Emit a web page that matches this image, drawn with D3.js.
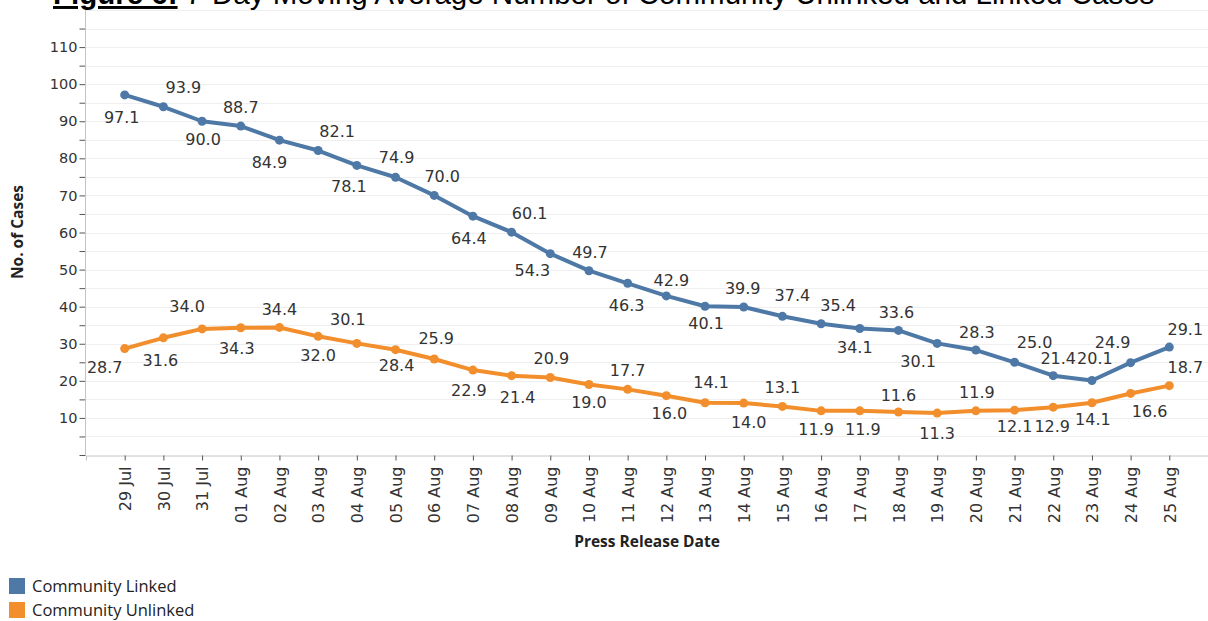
<!DOCTYPE html>
<html lang="en">
<head>
  <meta charset="UTF-8">
  <title>7-Day Moving Average Number of Community Unlinked and Linked Cases</title>
  <script src="https://d3js.org/d3.v7.min.js"></script>
  <style>
    body {
      margin: 0;
      background: #fff;
    }
    svg {
      display: block;
    }
    .tick text {
      font-family: "DejaVu Sans", sans-serif;
      fill: #333;
    }
  </style>
</head>
<body>
  <div id="chart"></div>

  <script>
    // data
    const dates = ["29 Jul", "30 Jul", "31 Jul", "01 Aug", "02 Aug", "03 Aug", "04 Aug",
                   "05 Aug", "06 Aug", "07 Aug", "08 Aug", "09 Aug", "10 Aug", "11 Aug",
                   "12 Aug", "13 Aug", "14 Aug", "15 Aug", "16 Aug", "17 Aug", "18 Aug",
                   "19 Aug", "20 Aug", "21 Aug", "22 Aug", "23 Aug", "24 Aug", "25 Aug"];
    const linked = [97.1, 93.9, 90.0, 88.7, 84.9, 82.1, 78.1, 74.9, 70.0, 64.4, 60.1, 54.3, 49.7, 46.3,
                    42.9, 40.1, 39.9, 37.4, 35.4, 34.1, 33.6, 30.1, 28.3, 25.0, 21.4, 20.1, 24.9, 29.1];
    const unlinked = [28.7, 31.6, 34.0, 34.3, 34.4, 32.0, 30.1, 28.4, 25.9, 22.9, 21.4, 20.9, 19.0, 17.7,
                      16.0, 14.1, 14.0, 13.1, 11.9, 11.9, 11.6, 11.3, 11.9, 12.1, 12.9, 14.1, 16.6, 18.7];
    const yTickValues = [10, 20, 30, 40, 50, 60, 70, 80, 90, 100, 110];
    const seriesNames = ["Community Linked", "Community Unlinked"];

    // label nudges (px), like the tableau label placement
    const linkedDx = [-3, 20, 1, 0, -10, 19, -8, 1, 8, -4, 18, -18, 1, -1, 5, 1, -1, 10, 17, -5, -2, -19, 1, 20, 5, 3, -18, 16];
    const linkedDy = [22, -20, 18, -19, 22, -19, 21, -20, -19, 22, -19, 17, -18, 22, -16, 17, -19, -21, -18, 19, -18, 18, -18, -20, -17, -22, -20, -18];
    const unlinkedDx = [-20, -3, -15, -4, 0, 0, -9, 1, 2, -4, 6, 1, 0, 0, 3, 6, 5, 0, -5, 3, 0, 0, 1, 0, -1, 1, 19, 16];
    const unlinkedDy = [19, 22, -23, 20, -18, 19, -24, 16, -21, 20, 22, -19, 18, -19, 18, -20, 19, -19, 18, 18, -17, 20, -19, 16, 19, 17, 18, -18];

    const W = 1208, H = 621;
    const plot = {left: 86, right: 1208, top: 10, bottom: 455};
    const blue = "#4e79a7", orange = "#f28e2b";

    const svg = d3.select("#chart").append("svg")
      .attr("width", W)
      .attr("height", H);

    const x = d3.scalePoint()
      .domain(dates)
      .range([plot.left, plot.right])
      .padding(1);

    const y = d3.scaleLinear()
      .domain([0, 120])
      .range([plot.bottom, plot.top]);

    // gridlines every 5
    svg.append("g")
      .selectAll("line")
      .data(d3.range(5, 121, 5))
      .join("line")
      .attr("x1", plot.left)
      .attr("x2", plot.right)
      .attr("y1", d => Math.round(y(d)) + 0.5)
      .attr("y2", d => Math.round(y(d)) + 0.5)
      .attr("stroke", "#efefef");

    // y axis
    const yAxis = d3.axisLeft(y)
      .tickValues(d3.range(0, 116, 5))
      .tickSize(6)
      .tickFormat(d => yTickValues.includes(d) ? d : "");

    const gy = svg.append("g")
      .attr("transform", `translate(${plot.left - 0.5},0)`)
      .call(yAxis);
    gy.select(".domain").remove();
    gy.selectAll(".tick line").attr("stroke", "#555");
    gy.selectAll(".tick text").style("font-size", "14.5px").attr("x", -8);

    svg.append("line")
      .attr("x1", plot.left - 0.5).attr("x2", plot.left - 0.5)
      .attr("y1", y(120)).attr("y2", plot.bottom)
      .attr("stroke", "#c4c4c4");

    // x axis
    const gx = svg.append("g")
      .attr("transform", `translate(0,${plot.bottom + 0.5})`)
      .call(d3.axisBottom(x).tickSize(5).tickSizeOuter(5));
    gx.select(".domain").attr("stroke", "#c4c4c4");
    gx.selectAll(".tick line").attr("stroke", "#555");
    gx.selectAll(".tick text")
      .style("font-size", "16px")
      .style("text-anchor", "end")
      .attr("transform", "rotate(-90)")
      .attr("x", -11)
      .attr("y", 0)
      .attr("dy", "0.36em");

    // axis titles
    svg.append("text")
      .attr("transform", "translate(23,232) rotate(-90)")
      .attr("text-anchor", "middle")
      .style("font-family", "'Open Sans', sans-serif")
      .style("font-weight", "bold")
      .style("font-size", "15.5px")
      .attr("fill", "#222")
      .text("No. of Cases");

    svg.append("text")
      .attr("x", 647)
      .attr("y", 547)
      .attr("text-anchor", "middle")
      .style("font-family", "'Open Sans', sans-serif")
      .style("font-weight", "bold")
      .style("font-size", "15.5px")
      .attr("fill", "#222")
      .text("Press Release Date");

    // lines + points
    const line = d3.line()
      .x((d, i) => x(dates[i]))
      .y(d => y(d));

    const series = [
      {values: unlinked, color: orange, dx: unlinkedDx, dy: unlinkedDy},
      {values: linked, color: blue, dx: linkedDx, dy: linkedDy}
    ];

    series.forEach(s => {
      svg.append("path")
        .datum(s.values)
        .attr("d", line)
        .attr("fill", "none")
        .attr("stroke", s.color)
        .attr("stroke-width", 4)
        .attr("stroke-linejoin", "round");

      svg.append("g")
        .selectAll("circle")
        .data(s.values)
        .join("circle")
        .attr("cx", (d, i) => x(dates[i]))
        .attr("cy", d => y(d))
        .attr("r", 4.5)
        .attr("fill", s.color);

      svg.append("g")
        .selectAll("text")
        .data(s.values)
        .join("text")
        .attr("x", (d, i) => x(dates[i]) + s.dx[i])
        .attr("y", (d, i) => y(d) + s.dy[i])
        .attr("dy", "0.36em")
        .attr("text-anchor", "middle")
        .style("font-family", "'DejaVu Sans', sans-serif")
        .style("font-size", "16px")
        .attr("fill", "#333")
        .text(d => d.toFixed(1));
    });

    // legend
    const legend = svg.append("g")
      .selectAll("g")
      .data(seriesNames)
      .join("g")
      .attr("transform", (d, i) => `translate(9,${578 + i * 24})`);

    legend.append("rect")
      .attr("width", 16)
      .attr("height", 16)
      .attr("fill", (d, i) => [blue, orange][i]);

    legend.append("text")
      .attr("x", 23)
      .attr("y", 14)
      .style("font-family", "'Open Sans', sans-serif")
      .style("font-size", "16.5px")
      .attr("fill", "#222")
      .text(d => d);

    // figure title, cut off at the top like the source
    const title = svg.append("text")
      .attr("x", 53)
      .attr("y", 4)
      .style("font-family", "'Liberation Sans', Arial, sans-serif")
      .style("font-size", "29.5px")
      .attr("fill", "#000");
    title.append("tspan")
      .style("font-weight", "bold")
      .style("text-decoration", "underline")
      .text("Figure 6:");
    title.append("tspan")
      .text(" 7-Day Moving Average Number of Community Unlinked and Linked Cases");
  </script>
</body>
</html>
